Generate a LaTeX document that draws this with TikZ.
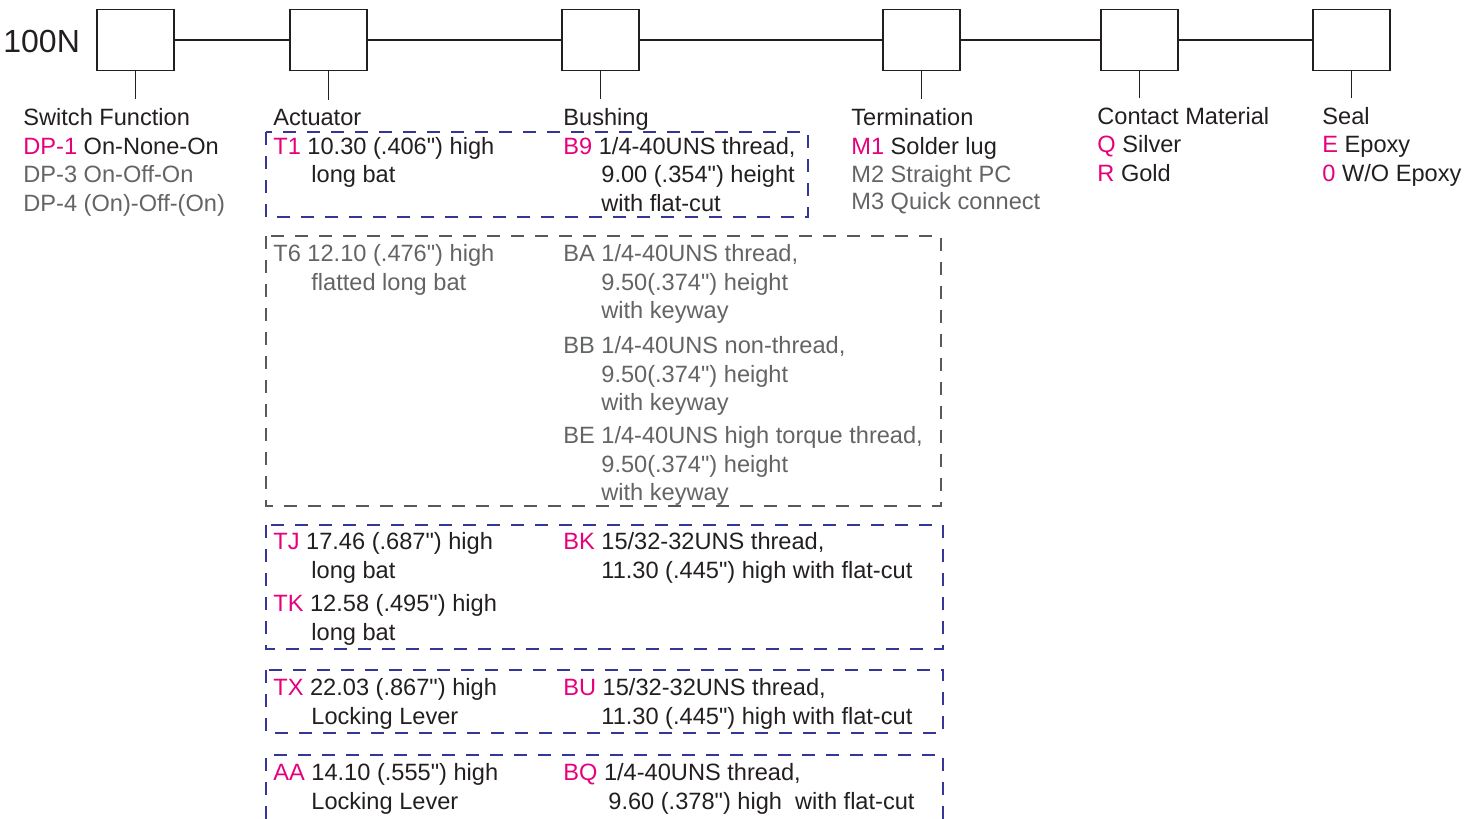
\documentclass[tikz,border=0pt]{standalone}
\usepackage{fontspec}
\setmainfont{Liberation Sans}[Ligatures=TeXOff]
\usepackage{tikz}
\usetikzlibrary{positioning}

\definecolor{ink}{RGB}{35,31,32}
\definecolor{codepink}{RGB}{230,0,126}
\definecolor{dimgray}{RGB}{99,100,102}
\definecolor{frameblue}{RGB}{52,55,150}
\definecolor{framegray}{RGB}{88,89,91}

% pollici (virgolette dritte)
\newcommand{\inch}{\char34\relax}
% codice colorato + prima riga, poi righe rientrate
\newcommand{\optindent}{19pt}
\newcommand{\opt}[4][codepink]{\begin{tabular}[t]{@{}l@{}}\textcolor{#1}{#2} #3\\
	\hspace*{\optindent}\begin{tabular}[t]{@{}l@{}}#4\end{tabular}\end{tabular}}

\begin{document}
\begin{tikzpicture}[x=0.5pt, y=-0.5pt,
			every node/.style={font=\fontsize{11.8}{14.35}\selectfont},
			% Stile per le caselle del codice
			part/.style={draw=ink, rectangle, minimum width=38.5pt, minimum height=30.5pt, inner sep=0pt, line width=0.65pt},
			% Stile per le linee
			wire/.style={draw=ink, line width=0.6pt},
			% Stili per i testi
			txt/.style={anchor=base west, inner sep=0pt, text=ink},
			dimtxt/.style={txt, text=dimgray},
			% Stili per i riquadri tratteggiati
			bluebox/.style={draw=frameblue, line width=0.55pt, dash pattern=on 6.5pt off 5.5pt},
			graybox/.style={draw=framegray, line width=0.55pt, dash pattern=on 6.5pt off 5.5pt}
			]
			\useasboundingbox (0,0) rectangle (1480,819);
			
			% --- CODICE (in alto) ---
			\node[txt, font=\fontsize{16}{19}\selectfont] (pn) at (3,53) {100N};
			\node[part] (sw) at (135.5,40) {};
			\node[part] (act) at (328.5,40) {};
			\node[part] (bush) at (600.5,40) {};
			\node[part] (term) at (921.5,40) {};
			\node[part] (cont) at (1139.5,40) {};
			\node[part] (seal) at (1351.5,40) {};
			
			\draw[wire] (sw) -- (act);
			\draw[wire] (act) -- (bush);
			\draw[wire] (bush) -- (term);
			\draw[wire] (term) -- (cont);
			\draw[wire] (cont) -- (seal);
			
			% --- TITOLI ---
			\node[txt] (hsw) at (23,125) {Switch Function};
			\node[txt] (hact) at (273,125) {Actuator};
			\node[txt] (hbush) at (563,125) {Bushing};
			\node[txt] (hterm) at (851,125) {Termination};
			\node[txt] (hcont) at (1097,124) {Contact Material};
			\node[txt] (hseal) at (1322,124) {Seal};
			
			\draw[wire, shorten >=4pt] (sw.south) -- (sw.south |- hsw.north);
			\draw[wire, shorten >=4pt] (act.south) -- (act.south |- hact.north);
			\draw[wire, shorten >=4pt] (bush.south) -- (bush.south |- hbush.north);
			\draw[wire, shorten >=4pt] (term.south) -- (term.south |- hterm.north);
			\draw[wire, shorten >=4pt] (cont.south) -- (cont.south |- hcont.north);
			\draw[wire, shorten >=4pt] (seal.south) -- (seal.south |- hseal.north);
			
			% --- OPZIONI ---
			\node[txt] (dp1) at (23,154) {\textcolor{codepink}{DP-1} On-None-On};
			\node[dimtxt] (dp3) at (23,182.7) {DP-3 On-Off-On};
			\node[dimtxt] (dp4) at (23,211.4) {DP-4 (On)-Off-(On)};
			
			\node[txt] (m1) at (851,154) {\textcolor{codepink}{M1} Solder lug};
			\node[dimtxt] (m2) at (851,182.5) {M2 Straight PC};
			\node[dimtxt] (m3) at (851,209.5) {M3 Quick connect};
			
			\node[txt] (q) at (1097,152.5) {\textcolor{codepink}{Q} Silver};
			\node[txt] (r) at (1097,181) {\textcolor{codepink}{R} Gold};
			\node[txt] (e) at (1322,152.5) {\textcolor{codepink}{E} Epoxy};
			\node[txt] (o) at (1322,181) {\textcolor{codepink}{0} W/O Epoxy};
			
			% riquadro T1 / B9
			\node[txt] (t1) at (273,154) {\opt{T1}{10.30 (.406\inch) high}{long bat}};
			\node[txt] (b9) at (563,154) {\opt{B9}{1/4-40UNS thread,}{9.00 (.354\inch) height\\with flat-cut}};
			\draw[bluebox] (266,132) rectangle (808,217);
			
			% riquadro T6 / BA, BB, BE
			\node[dimtxt] (t6) at (273,261.5) {\opt[dimgray]{T6}{12.10 (.476\inch) high}{flatted long bat}};
			\node[dimtxt] (ba) at (563,261.5) {\opt[dimgray]{BA}{1/4-40UNS thread,}{9.50(.374\inch) height\\with keyway}};
			\node[dimtxt] (bb) at (563,353.5) {\opt[dimgray]{BB}{1/4-40UNS non-thread,}{9.50(.374\inch) height\\with keyway}};
			\node[dimtxt] (be) at (563,443.5) {\opt[dimgray]{BE}{1/4-40UNS high torque thread,}{9.50(.374\inch) height\\with keyway}};
			\draw[graybox] (266,236) rectangle (941,506);
			
			% riquadro TJ, TK / BK
			\node[txt] (tj) at (273,549.5) {\opt{TJ}{17.46 (.687\inch) high}{long bat}};
			\node[txt] (tk) at (273,611.5) {\opt{TK}{12.58 (.495\inch) high}{long bat}};
			\node[txt] (bk) at (563,549.5) {\opt{BK}{15/32-32UNS thread,}{11.30 (.445\inch) high with flat-cut}};
			\draw[bluebox] (266,525) rectangle (943,649);
			
			% riquadro TX / BU
			\node[txt] (tx) at (273,695.5) {\opt{TX}{22.03 (.867\inch) high}{Locking Lever}};
			\node[txt] (bu) at (563,695.5) {\opt{BU}{15/32-32UNS thread,}{11.30 (.445\inch) high with flat-cut}};
			\draw[bluebox] (266,670) rectangle (943,733);
			
			% riquadro AA / BQ (tagliato in basso)
			\node[txt] (aa) at (273,780.5) {\opt{AA}{14.10 (.555\inch) high}{Locking Lever}};
			\node[txt] (bq) at (563,780.5) {\opt{BQ}{1/4-40UNS thread,}{\hspace{3.5pt}9.60 (.378\inch) high\ \ with flat-cut}};
			\draw[bluebox] (266,819) |- (943,755) -- (943,819);
			
		\end{tikzpicture}
\end{document}
